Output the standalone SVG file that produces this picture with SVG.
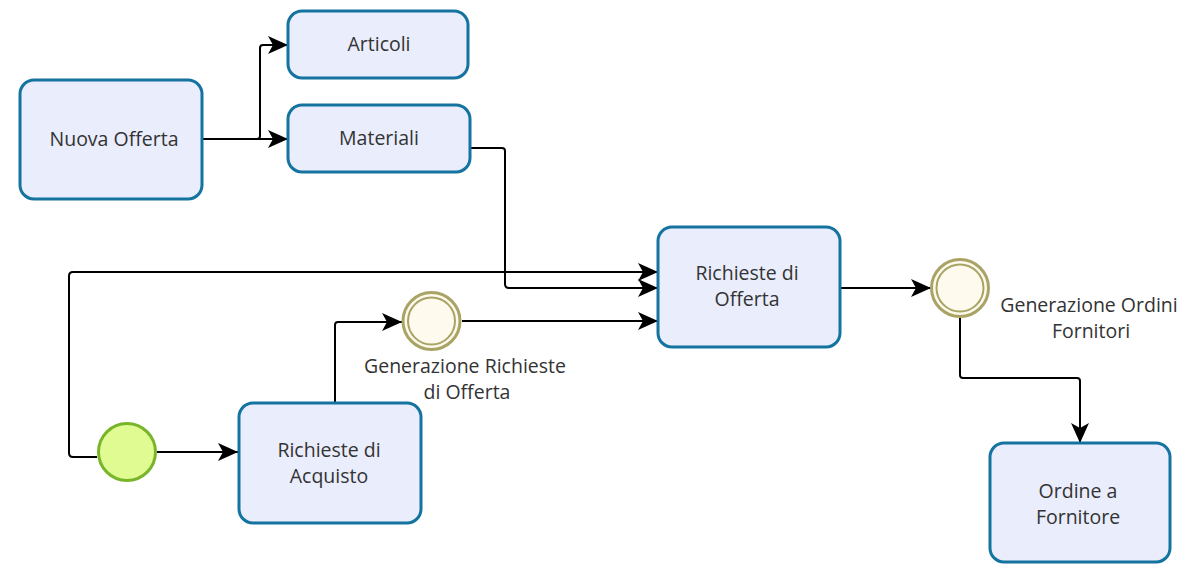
<svg xmlns="http://www.w3.org/2000/svg" width="1204" height="564" viewBox="0 0 1204 564">
<defs>
<marker id="arr" markerWidth="21" markerHeight="20" refX="20" refY="10" orient="auto" markerUnits="userSpaceOnUse">
<path d="M0,1 L20,10 L0,19 L5,10 Z" fill="#000"/>
</marker>
<style>
.task{fill:#e9edfc;stroke:#14739f;stroke-width:3}
.lbl{font-family:"Open Sans","Noto Sans","DejaVu Sans",sans-serif;font-size:19.5px;fill:#333;text-anchor:middle}
.flow{fill:none;stroke:#000;stroke-width:2;marker-end:url(#arr)}
.ev{fill:#fefaed;stroke:#a9a366}
.start{fill:#e1fb93;stroke:#78b52a;stroke-width:3}
</style>
</defs>
<rect width="1204" height="564" fill="#fff"/>
<g id="connectors">
<path class="flow" d="M202,139 H288"/>
<path class="flow" d="M250,139 H257 Q260,139 260,136 V48 Q260,45 263,45 H288"/>
<path class="flow" d="M470,148 H502 Q505,148 505,151 V284 Q505,288 509,288 H658"/>
<path class="flow" d="M97,457 H73 Q69,457 69,453 V276 Q69,272 73,272 H658"/>
<path class="flow" d="M157,452 H238"/>
<path class="flow" d="M335,403 V325 Q335,322 338,322 H402"/>
<path class="flow" d="M462,321 H658"/>
<path class="flow" d="M840,288 H931"/>
<path class="flow" d="M960,318 V375 Q960,378 963,378 H1077 Q1080,378 1080,381 V443"/>
</g>
<g id="nuova-offerta">
<rect class="task" x="20" y="80" width="182" height="119" rx="14"/>
<text class="lbl" x="114" y="146">Nuova Offerta</text>
</g>
<g id="articoli">
<rect class="task" x="288" y="11" width="180" height="67" rx="14"/>
<text class="lbl" x="379" y="51">Articoli</text>
</g>
<g id="materiali">
<rect class="task" x="288" y="105" width="182" height="67" rx="14"/>
<text class="lbl" x="379" y="145">Materiali</text>
</g>
<g id="richieste-offerta">
<rect class="task" x="658" y="227" width="182" height="120" rx="14"/>
<text class="lbl" x="747" y="280">Richieste di</text>
<text class="lbl" x="747" y="306">Offerta</text>
</g>
<g id="richieste-acquisto">
<rect class="task" x="239" y="403" width="182" height="120" rx="14"/>
<text class="lbl" x="329" y="457">Richieste di</text>
<text class="lbl" x="329" y="483">Acquisto</text>
</g>
<g id="ordine-fornitore">
<rect class="task" x="990" y="443" width="180" height="119" rx="14"/>
<text class="lbl" x="1078" y="498">Ordine a</text>
<text class="lbl" x="1078" y="524">Fornitore</text>
</g>
<g id="start">
<circle class="start" cx="127" cy="452" r="28.5"/>
</g>
<g id="gen-richieste-offerta">
<circle class="ev" cx="431.5" cy="321" r="28.5" stroke-width="3"/>
<circle class="ev" cx="431.5" cy="321" r="23.5" stroke-width="2"/>
<text class="lbl" x="465" y="373">Generazione Richieste</text>
<text class="lbl" x="467" y="399">di Offerta</text>
</g>
<g id="gen-ordini-fornitori">
<circle class="ev" cx="960" cy="288" r="28.5" stroke-width="3"/>
<circle class="ev" cx="960" cy="288" r="23.5" stroke-width="2"/>
<text class="lbl" x="1089" y="312">Generazione Ordini</text>
<text class="lbl" x="1091" y="338">Fornitori</text>
</g>
</svg>
